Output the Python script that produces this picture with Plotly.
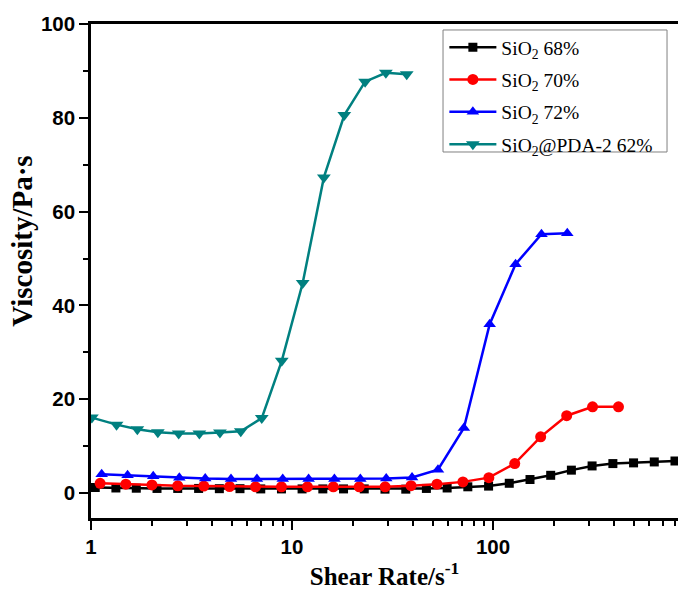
import plotly.graph_objects as go

# ---- data ----
x_68 = [1.05, 1.33, 1.68, 2.13, 2.70, 3.43, 4.35, 5.51, 6.99, 8.86, 11.22, 14.23, 18.04, 22.87,
        29.0, 36.8, 46.6, 59.1, 74.9, 95.0, 120.4, 152.7, 193.5, 245.3, 310.9, 394.5, 500.0, 633.9, 803.5]
y_68 = [1.2, 1.1, 1.05, 1.0, 1.0, 1.0, 0.95, 0.95, 0.9, 0.9, 0.9, 0.9, 0.9, 0.9,
        0.85, 0.85, 1.0, 1.1, 1.35, 1.5, 2.1, 2.9, 3.8, 4.9, 5.8, 6.3, 6.45, 6.65, 6.85]

x_70 = [1.11, 1.49, 2.01, 2.70, 3.64, 4.89, 6.58, 8.86, 11.93, 16.05, 21.59, 29.05, 39.08,
        52.6, 70.8, 95.3, 128.2, 172.5, 232.4, 312.6, 420.6]
y_70 = [2.1, 1.9, 1.75, 1.55, 1.5, 1.4, 1.35, 1.35, 1.35, 1.35, 1.35, 1.35, 1.6,
        1.9, 2.4, 3.3, 6.3, 12.0, 16.5, 18.4, 18.4]

x_72 = [1.13, 1.52, 2.04, 2.75, 3.70, 4.97, 6.69, 8.99, 12.09, 16.25, 21.87, 29.42, 39.54,
        53.2, 71.6, 96.2, 129.4, 174.1, 234.0]
y_72 = [4.05, 3.8, 3.6, 3.3, 3.1, 3.0, 3.0, 3.0, 3.0, 3.0, 3.0, 3.1, 3.35,
        5.0, 13.9, 36.0, 48.8, 55.2, 55.4]

x_pda = [1.01, 1.34, 1.70, 2.15, 2.73, 3.46, 4.38, 5.56, 7.07, 8.89, 11.3, 14.4, 18.2, 23.1, 29.3, 37.2]
y_pda = [16.1, 14.6, 13.6, 13.0, 12.7, 12.7, 12.9, 13.2, 16.0, 28.2, 44.8, 67.3, 80.6, 87.7, 89.6, 89.3]

names = ["SiO<sub>2</sub> 68%", "SiO<sub>2</sub> 70%", "SiO<sub>2</sub> 72%", "SiO<sub>2</sub>@PDA-2 62%"]
colors = ["#000000", "#FF0000", "#0000FF", "#008080"]
symbols = ["square", "circle", "triangle-up", "triangle-down"]
msizes = [9, 11, 11, 12]

xs = [x_68, x_70, x_72, x_pda]
ys = [y_68, y_70, y_72, y_pda]

fig = go.Figure()
for i in range(4):
    fig.add_trace(go.Scatter(
        x=xs[i], y=ys[i], name=names[i], mode="lines+markers",
        line=dict(color=colors[i], width=2.5),
        marker=dict(symbol=symbols[i], size=msizes[i], color=colors[i]),
        legendgroup=str(i),
    ))

sans = "Liberation Sans, Arial, sans-serif"
serif = "Liberation Serif, Times New Roman, serif"

fig.update_layout(
    width=678, height=590,
    margin=dict(l=91, r=0, t=24, b=72, autoexpand=False),
    paper_bgcolor="white", plot_bgcolor="white",
    showlegend=True,
    legend=dict(
        x=0.602, y=0.992, xanchor="left", yanchor="top",
        bgcolor="rgba(0,0,0,0)", borderwidth=0,
        font=dict(family=serif, size=19.5, color="black"),
        tracegroupgap=4, itemwidth=47,
    ),
    xaxis=dict(
        type="log", range=[0, 2.92], automargin=False,
        showline=True, linecolor="black", linewidth=2.5, mirror=True,
        showgrid=False, zeroline=False,
        ticks="outside", ticklen=9, tickwidth=2, tickcolor="black",
        tickvals=[1, 10, 100], ticktext=["1", "10", "100"],
        tickfont=dict(family=sans, size=20.5, color="black", weight="bold"),
        minor=dict(ticks="outside", ticklen=5, tickwidth=2, tickcolor="black",
                   tickvals=[2, 3, 4, 5, 6, 7, 8, 9, 20, 30, 40, 50, 60, 70, 80, 90,
                             200, 300, 400, 500, 600, 700, 800], showgrid=False),
        title=dict(text="Shear Rate/s<sup>-1</sup>", standoff=12,
                   font=dict(family=serif, size=25, color="black", weight="bold")),
    ),
    yaxis=dict(
        range=[-5.3, 100], automargin=False,
        showline=True, linecolor="black", linewidth=2.5,
        showgrid=False, zeroline=False,
        ticks="outside", ticklen=9, tickwidth=2, tickcolor="black",
        tickvals=[0, 20, 40, 60, 80, 100],
        tickfont=dict(family=sans, size=20.5, color="black", weight="bold"),
        minor=dict(ticks="outside", ticklen=5, tickwidth=2, tickcolor="black",
                   tickvals=[10, 30, 50, 70, 90], showgrid=False),
    ),
    shapes=[dict(
        type="rect", xref="paper", yref="paper",
        x0=0.5997, x1=0.9813, y0=0.7409, y1=0.9879,
        line=dict(color="#808080", width=1), fillcolor="white", layer="above",
    )],
    annotations=[dict(
        text="Viscosity/Pa·s", textangle=-90, showarrow=False,
        xref="paper", yref="paper", x=-0.117, y=0.56,
        xanchor="center", yanchor="middle",
        font=dict(family=serif, size=29, color="black", weight="bold"),
    )],
)

fig.write_html("out.html", config={"displayModeBar": False},
               post_script="document.body.style.margin='0';")
